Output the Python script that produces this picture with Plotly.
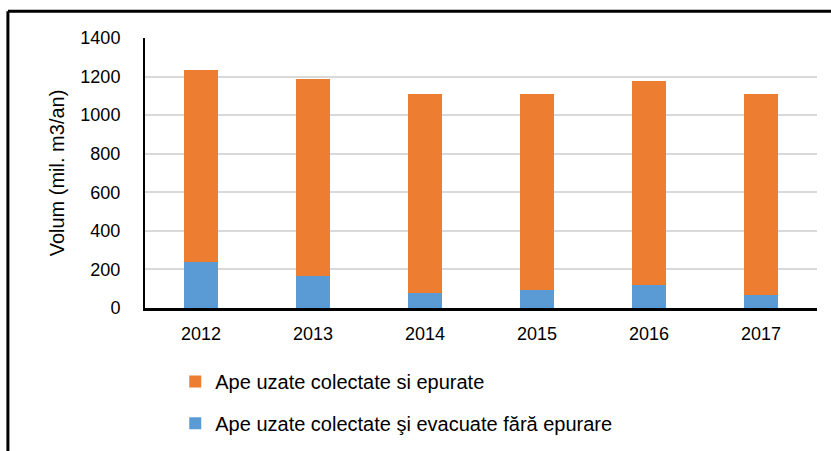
import plotly.graph_objects as go

years = ["2012", "2013", "2014", "2015", "2016", "2017"]
blue_vals = [238, 167, 78, 95, 119, 67]
orange_vals = [997, 1021, 1030, 1013, 1059, 1041]
name_orange = "Ape uzate colectate si epurate"
name_blue = "Ape uzate colectate şi evacuate fără epurare"
y_ticks = [0, 200, 400, 600, 800, 1000, 1200, 1400]

FONT = "Liberation Sans, Arial, sans-serif"

fig = go.Figure()
fig.add_trace(go.Bar(x=years, y=blue_vals, name=name_blue, marker_color="#5B9BD5",
                     marker_line_width=0, legend="legend2"))
fig.add_trace(go.Bar(x=years, y=orange_vals, name=name_orange, marker_color="#ED7D31",
                     marker_line_width=0, legend="legend"))

fig.update_layout(
    width=831, height=451,
    margin=dict(l=145, r=14, t=38, b=143, autoexpand=False),
    barmode="stack", bargap=0.69,
    plot_bgcolor="white", paper_bgcolor="white",
    font=dict(family=FONT, size=18, color="#000000"),
    showlegend=True,
    legend=dict(x=0.045, y=-0.2, xanchor="left", yanchor="top", bgcolor="rgba(0,0,0,0)",
                font=dict(size=20), itemwidth=30),
    legend2=dict(x=0.045, y=-0.355, xanchor="left", yanchor="top", bgcolor="rgba(0,0,0,0)",
                 font=dict(size=20), itemwidth=30),
    xaxis=dict(showline=True, linecolor="black", linewidth=3, ticks="",
               ticklabelstandoff=7, tickfont=dict(size=18), automargin=False),
    yaxis=dict(range=[0, 1400], tickvals=y_ticks, showline=True, linecolor="black",
               linewidth=2, gridcolor="#D9D9D9", gridwidth=2, ticks="", zeroline=False,
               ticklabelstandoff=19, tickfont=dict(size=18), automargin=False,
               title=dict(text="Volum (mil. m3/an)", font=dict(size=20), standoff=10)),
)

# outer frame (top and left)
fig.add_shape(type="line", xref="paper", yref="paper", x0=-0.204, x1=1.03, y0=1.099, y1=1.099,
              line=dict(color="black", width=3))
fig.add_shape(type="line", xref="paper", yref="paper", x0=-0.204, x1=-0.204, y0=1.099, y1=-0.6,
              line=dict(color="black", width=3))

fig.write_html("out.html", config={"displayModeBar": False},
               post_script="document.body.style.margin='0';")
